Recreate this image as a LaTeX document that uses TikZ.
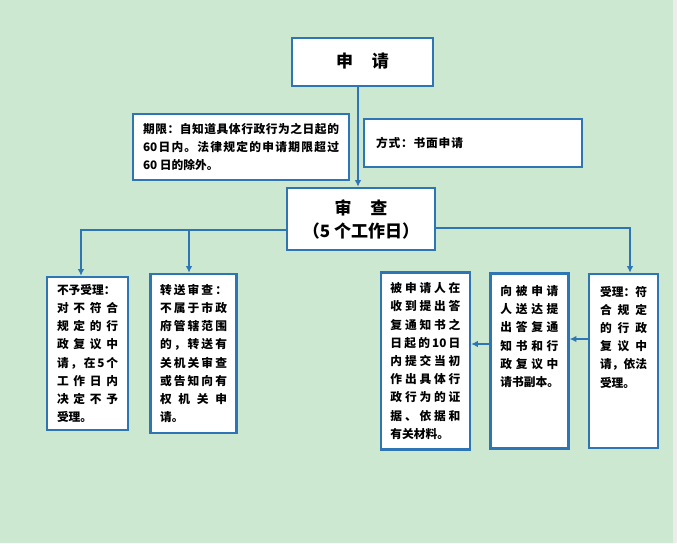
\documentclass[tikz,border=0pt]{standalone}
\usepackage{fontspec}
\setmainfont{Noto Sans CJK SC}
\usetikzlibrary{positioning, arrows.meta}
\definecolor{bgreen}{HTML}{CDE8D0}
\definecolor{bblue}{HTML}{2E75B6}
\newlength\pxl \setlength\pxl{0.75pt}
\def\spr#1#2{#1\ifx\relax#2\else\hfill\expandafter\spr\fi#2}
\newcommand\jline[1]{\leavevmode\hbox to\linewidth{\spr#1\relax}}
\def\ten{10}
\def\sixty{60}
\begin{document}
\begin{tikzpicture}[x=0.75pt, y=-0.75pt,
     box/.style = {rectangle, draw=bblue, line width=1.9pt, fill=white, inner sep=0pt},
    hbox/.style = {box, font=\fontsize{12.75}{17.25}\selectfont\bfseries, align=center},
    tbox/.style = {box, font=\fontsize{8.8}{13.65}\selectfont\bfseries},
     arr/.style = {draw=bblue, line width=1.5pt, -{Latex[length=5pt,width=5pt]}}
                    ]
\fill[bgreen] (0,0) rectangle (673,543);
\fill[gray!15] (673,0) rectangle (677,543);
\node (apply) [hbox, minimum width=141\pxl, minimum height=48\pxl] at (362.5,62) {\raisebox{4\pxl}{申\hspace{1.1em}请}};
\node (limit) [tbox, minimum width=216\pxl, minimum height=66\pxl] at (241,147) {\parbox{196\pxl}{\raggedright
  \jline{期限：自知道具体行政行为之日起的}\\
  \jline{\sixty 日内。法律规定的申请期限超过}\\
  60 日的除外。}};
\node (mode) [tbox, minimum width=218\pxl, minimum height=48\pxl] at (473,143) {\parbox{194\pxl}{\raggedright
  \leavevmode\hbox to 87\pxl{\spr 方式：书面申请\relax}}};
\node (review) [hbox, minimum width=148\pxl, minimum height=62\pxl] at (361,219) {审\hspace{1.1em}查\\（5 个工作日）};
\node (refuse) [tbox, minimum width=81\pxl, minimum height=153\pxl] at (87.5,353.5) {\parbox{61\pxl}{\raggedright
  不予受理：\\
  \jline{对不符合}\\
  \jline{规定的行}\\
  \jline{政复议中}\\
  \jline{请，在5个}\\
  \jline{工作日内}\\
  \jline{决定不予}\\
  受理。}};
\node (transfer) [tbox, minimum width=86\pxl, minimum height=159\pxl, right=20\pxl of refuse] {\parbox{67\pxl}{\raggedright
  \jline{转送审查：}\\
  \jline{不属于市政}\\
  \jline{府管辖范围}\\
  \jline{的，转送有}\\
  \jline{关机关审查}\\
  \jline{或告知向有}\\
  \jline{权机关申}\\
  请。}};
\node (accept) [tbox, minimum width=69\pxl, minimum height=174\pxl] at (623.5,361) {\parbox[c][150\pxl][t]{47\pxl}{\raggedright
  \jline{受理：符}\\
  \jline{合规定}\\
  \jline{的行政}\\
  \jline{复议中}\\
  \jline{请，依法}\\
  受理。}};
\node (notify) [tbox, minimum width=78\pxl, minimum height=175\pxl, left=18\pxl of accept] {\parbox[c][151\pxl][t]{58\pxl}{\raggedright
  \jline{向被申请}\\
  \jline{人送达提}\\
  \jline{出答复通}\\
  \jline{知书和行}\\
  \jline{政复议中}\\
  请书副本。}};
\node (evidence) [tbox, minimum width=89\pxl, minimum height=177\pxl, left=18\pxl of notify] {\parbox{70\pxl}{\raggedright
  \jline{被申请人在}\\
  \jline{收到提出答}\\
  \jline{复通知书之}\\
  \jline{日起的\ten 日}\\
  \jline{内提交当初}\\
  \jline{作出具体行}\\
  \jline{政行为的证}\\
  \jline{据、依据和}\\
  有关材料。}};
% bus lines
\coordinate (vline) at (358,0);
\coordinate (busl) at (81,230);
\coordinate (busm) at (189,230);
\coordinate (busr) at (630,228);
\coordinate (hr) at (580,339);
\coordinate (hl) at (480,344);
\draw[arr] (apply.south -| vline) -- (review.north -| vline);
\draw[arr] (review.west |- busl) -- (busl) -- (busl |- refuse.north);
\draw[arr] (busm) -- (busm |- transfer.north);
\draw[arr] (review.east |- busr) -- (busr) -- (busr |- accept.north);
\draw[arr] (accept.west |- hr) -- (notify.east |- hr);
\draw[arr] (notify.west |- hl) -- (evidence.east |- hl);
\end{tikzpicture}
\end{document}
